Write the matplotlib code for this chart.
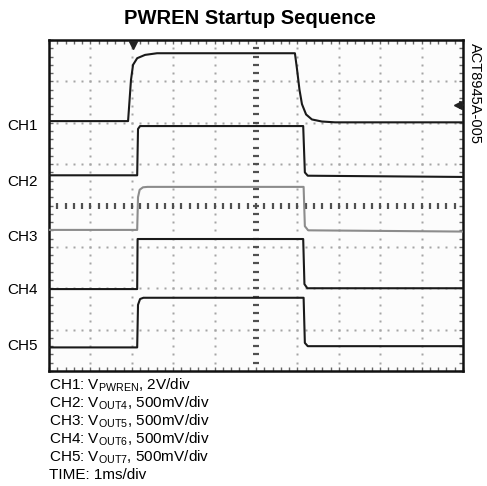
import matplotlib.pyplot as plt
import numpy as np

plt.rcParams["font.family"] = ["Liberation Sans", "DejaVu Sans"]
plt.rcParams["mathtext.fontset"] = "custom"
plt.rcParams["mathtext.rm"] = "Liberation Sans"

# time in ms (1 ms/div), level in screen divisions (0 = bottom, 8 = top)
ch1_t = [0.0, 1.91, 1.98, 2.03, 2.13, 2.32, 2.61, 5.94, 5.99, 6.05, 6.11, 6.21, 6.35, 6.59, 6.91, 10.0]
ch1_v = [6.04, 6.04, 7.03, 7.40, 7.56, 7.64, 7.68, 7.68, 7.30, 6.80, 6.45, 6.20, 6.08, 6.03, 6.01, 6.01]

ch2_t = [0.0, 2.13, 2.15, 2.20, 6.14, 6.18, 6.25, 10.0]
ch2_v = [4.73, 4.73, 5.85, 5.92, 5.92, 4.80, 4.72, 4.69]

ch3_t = [0.0, 2.13, 2.15, 2.19, 2.27, 2.38, 6.15, 6.18, 6.26, 10.0]
ch3_v = [3.41, 3.41, 4.20, 4.38, 4.44, 4.45, 4.45, 3.50, 3.40, 3.37]

ch4_t = [0.0, 2.13, 2.14, 6.14, 6.17, 6.24, 10.0]
ch4_v = [1.98, 1.98, 3.19, 3.19, 2.10, 2.00, 2.00]

ch5_t = [0.0, 2.13, 2.15, 2.20, 2.28, 6.15, 6.18, 6.25, 10.0]
ch5_v = [0.57, 0.57, 1.60, 1.74, 1.77, 1.77, 0.68, 0.60, 0.60]

channels = ["CH1", "CH2", "CH3", "CH4", "CH5"]
label_levels = [5.92, 4.58, 3.25, 1.96, 0.60]
trace_colors = ["#1a1a1a", "#1a1a1a", "#8c8c8c", "#1a1a1a", "#1a1a1a"]

legend_lines = [
    r"CH1: V$_\mathrm{PWREN}$, 2V/div",
    r"CH2: V$_\mathrm{OUT4}$, 500mV/div",
    r"CH3: V$_\mathrm{OUT5}$, 500mV/div",
    r"CH4: V$_\mathrm{OUT6}$, 500mV/div",
    r"CH5: V$_\mathrm{OUT7}$, 500mV/div",
    "TIME: 1ms/div",
]

trigger_time = 2.02
trigger_level = 6.43

W, H = 487, 486
fig = plt.figure(figsize=(W / 100, H / 100), dpi=100)
ax = fig.add_axes([49 / W, (H - 371) / H, 414 / W, 331 / H])
ax.set_facecolor("#fcfcfc")
ax.set_xlim(0, 10)
ax.set_ylim(0, 8)

# graticule: dotted lines with a dot every minor division
minor = np.arange(0.2, 10.0, 0.2)
minor_y = np.arange(0.2, 8.0, 0.2)
for k in range(1, 10):
    if k == 5:
        continue
    ax.plot(np.full_like(minor_y, k), minor_y, ls="none", marker="s", ms=1.5,
            mfc="#a5a5a5", mec="none", zorder=1)
for j in range(1, 8):
    if j == 4:
        continue
    ax.plot(minor, np.full_like(minor, j), ls="none", marker="s", ms=1.5,
            mfc="#a5a5a5", mec="none", zorder=1)
ax.plot(np.full_like(minor_y, 5), minor_y, ls="none", marker="_", ms=5,
        mew=1.6, color="#505050", zorder=1)
ax.plot(minor, np.full_like(minor, 4), ls="none", marker="|", ms=5,
        mew=1.6, color="#505050", zorder=1)

for t, v, c in zip([ch1_t, ch2_t, ch3_t, ch4_t, ch5_t],
                   [ch1_v, ch2_v, ch3_v, ch4_v, ch5_v], trace_colors):
    ax.plot(t, v, color=c, lw=1.5, zorder=3, solid_joinstyle="round")

# trigger markers
ax.plot([trigger_time], [7.88], marker="v", ms=6, color="#222222", clip_on=False, zorder=4)
ax.plot([9.87], [trigger_level], marker="<", ms=6, color="#222222", clip_on=False, zorder=4)
ax.plot([9.93], [trigger_level], marker="+", ms=6, mew=1.2, color="#222222", clip_on=False, zorder=4)

ax.set_xticks(np.arange(0, 10.01, 0.2))
ax.set_yticks(np.arange(0, 8.01, 0.2))
ax.set_xticklabels([])
ax.set_yticklabels([])
ax.tick_params(direction="in", length=3, width=1, color="#666666",
               top=True, right=True, bottom=True, left=True)
for s in ax.spines.values():
    s.set_linewidth(1.8)
    s.set_color("#111111")

for name, lv in zip(channels, label_levels):
    ax.text(-0.027, lv, name, transform=ax.get_yaxis_transform(),
            ha="right", va="center", fontsize=11)

fig.text(250 / W, 1 - 19 / H, "PWREN Startup Sequence", ha="center", va="center",
         fontsize=14.5, fontweight="bold")
fig.text(475 / W, 1 - 43 / H, "ACT8945A-005", ha="center", va="top",
         rotation=-90, fontsize=10.5)

for i, line in enumerate(legend_lines):
    fig.text(49 / W, 1 - (385 + 18 * i) / H, line, ha="left", va="center", fontsize=11)

fig.savefig("out.png", dpi=100, facecolor="white")
